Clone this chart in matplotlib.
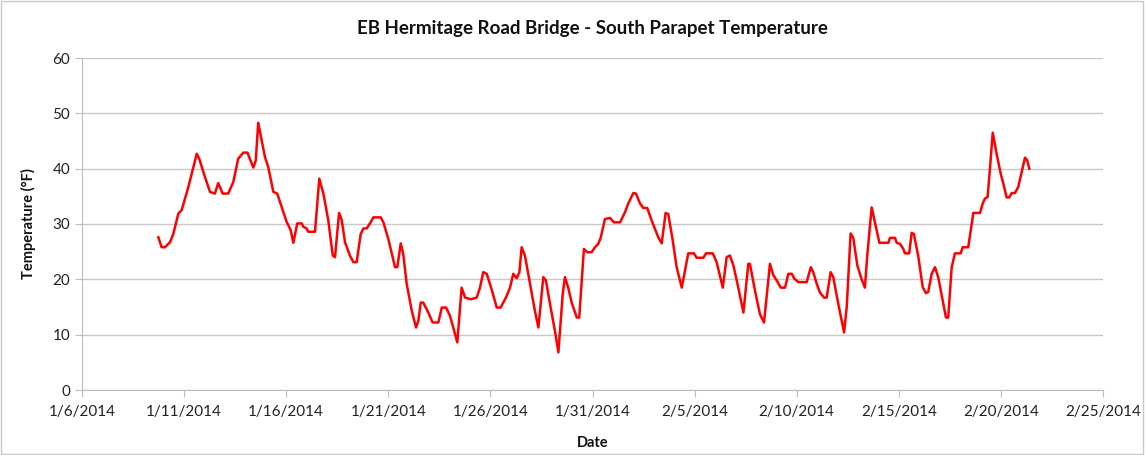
import pandas as pd
import matplotlib
matplotlib.use("Agg")
import matplotlib.pyplot as plt
from matplotlib.patches import Rectangle

# days after 1/6/2014 00:00
days = [3.74, 3.90, 4.06, 4.31, 4.47, 4.72, 4.88, 5.21, 5.62, 5.74, 6.02, 6.27, 6.51, 6.67, 6.89,
        7.16, 7.41, 7.65, 7.90, 8.10, 8.39, 8.51, 8.63, 8.96, 9.12, 9.37, 9.56, 10.02, 10.22, 10.35,
        10.54, 10.76, 10.84, 11.00, 11.08, 11.41, 11.62, 11.82, 12.06, 12.28, 12.39, 12.59, 12.72,
        12.88, 13.12, 13.29, 13.45, 13.65, 13.78, 13.94, 14.10, 14.27, 14.63, 14.76, 15.00, 15.33,
        15.44, 15.61, 15.73, 15.90, 16.15, 16.36, 16.47, 16.59, 16.71, 16.96, 17.17, 17.45, 17.62,
        17.83, 18.02, 18.18, 18.38, 18.59, 18.76, 19.04, 19.33, 19.49, 19.65, 19.82, 20.06, 20.31,
        20.50, 20.76, 20.96, 21.12, 21.29, 21.42, 21.53, 21.69, 21.94, 22.18, 22.35, 22.59, 22.72,
        22.92, 23.16, 23.33, 23.54, 23.65, 23.81, 23.98, 24.23, 24.35, 24.58, 24.75, 24.96, 25.12,
        25.28, 25.40, 25.61, 25.86, 26.05, 26.35, 26.59, 26.75, 27.00, 27.13, 27.33, 27.49, 27.68,
        27.90, 28.06, 28.22, 28.39, 28.58, 28.71, 28.93, 29.12, 29.37, 29.53, 29.69, 29.97, 30.10,
        30.43, 30.56, 30.89, 31.08, 31.38, 31.57, 31.73, 31.90, 32.14, 32.39, 32.63, 32.71, 32.96,
        33.20, 33.40, 33.69, 33.85, 34.02, 34.22, 34.43, 34.59, 34.76, 34.87, 35.08, 35.49, 35.69,
        35.81, 35.98, 36.14, 36.34, 36.47, 36.66, 36.79, 37.04, 37.32, 37.45, 37.64, 37.77, 37.97,
        38.18, 38.34, 38.46, 38.67, 38.83, 39.05, 39.49, 39.57, 39.81, 39.90, 40.06, 40.22, 40.30,
        40.51, 40.63, 40.74, 40.96, 41.17, 41.33, 41.44, 41.61, 41.77, 41.93, 42.18, 42.31, 42.42,
        42.59, 42.75, 43.03, 43.13, 43.40, 43.65, 43.98, 44.11, 44.22, 44.35, 44.47, 44.60, 44.79,
        44.99, 45.12, 45.28, 45.41, 45.53, 45.69, 45.85, 46.02, 46.18, 46.29, 46.39]

temps = [27.6, 25.8, 25.8, 26.7, 28.2, 31.9, 32.5, 36.7, 42.7, 41.8, 38.5, 35.8, 35.5, 37.4, 35.5,
         35.5, 37.6, 41.8, 42.9, 42.9, 40.2, 41.5, 48.3, 42.1, 40.3, 35.8, 35.5, 30.4, 28.9, 26.6,
         30.1, 30.1, 29.5, 29.2, 28.6, 28.6, 38.2, 35.5, 30.7, 24.3, 24.0, 32.0, 30.7,
         26.7, 24.3, 23.1, 23.1, 28.2, 29.2, 29.2, 30.1, 31.2, 31.2, 30.3, 27.3, 22.2,
         22.2, 26.5, 24.6, 19.2, 14.3, 11.3, 12.5, 15.8, 15.8, 14.0, 12.2, 12.2, 14.9,
         14.9, 13.4, 11.3, 8.6, 18.5, 16.7, 16.4, 16.7, 18.5, 21.3, 21.0, 18.2, 14.9,
         14.9, 16.7, 18.5, 21.0, 20.2, 21.3, 25.8, 24.3, 19.2, 14.3, 11.3, 20.4, 19.8,
         15.5, 10.7, 6.8, 17.3, 20.4, 18.5, 15.8, 13.1, 13.1, 25.5, 24.9, 24.9, 25.8,
         26.4, 27.5, 30.9, 31.1, 30.3, 30.3, 32.1, 33.7, 35.6, 35.5, 33.7, 32.9, 32.9,
         30.6, 29.1, 27.6, 26.5, 32.0, 31.8, 27.0, 22.2, 18.5, 21.6, 24.7, 24.7, 23.9,
         23.9, 24.7, 24.7, 23.1, 18.5, 24.0, 24.3, 22.5, 18.5, 14.0, 22.8, 22.8, 17.9,
         13.7, 12.2, 22.8, 20.8, 19.8, 18.5, 18.5, 21.0, 21.0, 20.2, 19.5, 19.5, 22.2,
         21.3, 19.2, 17.6, 16.7, 16.7, 21.3, 20.4, 15.5, 10.4, 15.0, 28.3, 27.5, 22.5,
         20.0, 18.5, 24.5, 33.0, 30.3, 26.6, 26.6, 27.5, 27.5, 26.6, 26.4, 25.5, 24.7,
         24.7, 28.4, 28.2, 24.0, 18.6, 17.5, 17.7, 21.0, 22.2, 20.4, 15.6, 13.1, 13.1,
         22.2, 24.7, 24.7, 25.8, 25.8, 32.0, 32.0, 33.7, 34.6, 34.9, 40.3, 46.5, 42.7,
         39.1, 37.3, 34.8, 34.8, 35.6, 35.6, 36.7, 39.4, 42.0, 41.5, 40.0]

start = pd.Timestamp('2014-01-06')
dates = start + pd.to_timedelta(days, unit='D')
tick_dates = pd.date_range('2014-01-06', '2014-02-25', freq='5D')

plt.rcParams['font.family'] = ['Lato', 'DejaVu Sans']

fig = plt.figure(figsize=(11.45, 4.55), dpi=100)
ax = fig.add_axes([82 / 1145, 1 - 390 / 455, (1103 - 82) / 1145, (390 - 58) / 455])

ax.plot(dates, temps, color='#ff0000', linewidth=1.8)

ax.set_xlim(tick_dates[0], tick_dates[-1])
ax.set_ylim(0, 60)
ax.set_yticks(range(0, 61, 10))
ax.set_xticks(tick_dates)
ax.set_xticklabels([f"{d.month}/{d.day}/{d.year}" for d in tick_dates])

ax.grid(axis='y', color='#c8c8c8', linewidth=1)
ax.set_axisbelow(True)
for side in ['top', 'right']:
    ax.spines[side].set_visible(False)
for side in ['left', 'bottom']:
    ax.spines[side].set_color('#bdbdbd')
ax.tick_params(axis='both', colors='#bdbdbd', labelcolor='#222222', labelsize=11, length=5)
ax.tick_params(axis='x', pad=6)

ax.set_title('EB Hermitage Road Bridge - South Parapet Temperature',
             fontsize=13.5, fontweight='bold', color='#111111', pad=17)
ax.set_xlabel('Date', fontsize=10.5, fontweight='bold', color='#111111', labelpad=12)
ax.set_ylabel('Temperature (°F)', fontsize=10.5, fontweight='bold', color='#111111', labelpad=12)

fig.patches.append(Rectangle((0.001, 0.002), 0.997, 0.995, transform=fig.transFigure,
                             fill=False, edgecolor='#c8c8c8', linewidth=1))

fig.savefig('out.png', dpi=100)
